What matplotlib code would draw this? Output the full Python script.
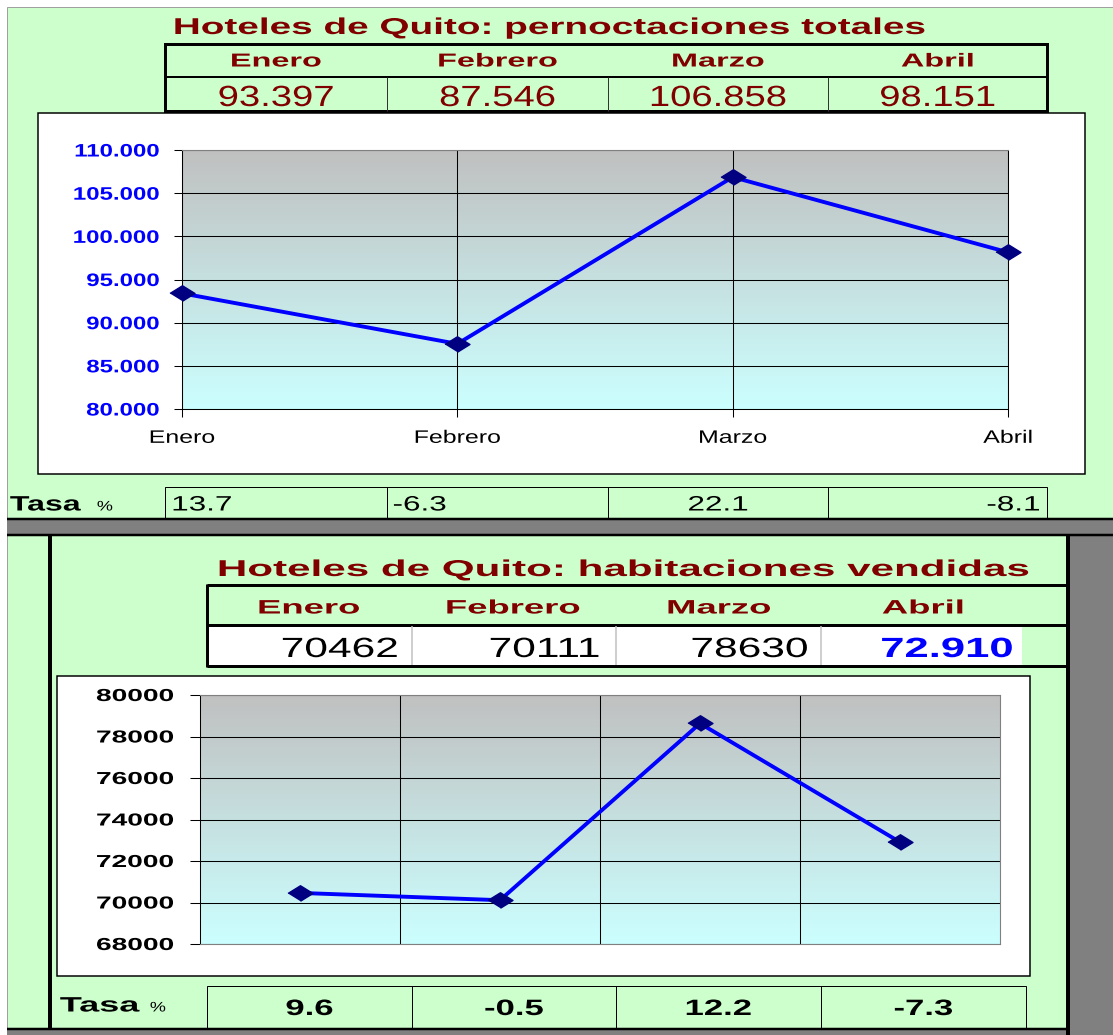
"""
Hoteles de Quito: pernoctaciones totales / habitaciones vendidas.
Spreadsheet-style panel with two small line charts, saved as out.png.
"""
import matplotlib
matplotlib.use("Agg")
import matplotlib.pyplot as plt
import matplotlib.patches as mpatches
from matplotlib.colors import LinearSegmentedColormap
from matplotlib.patheffects import AbstractPathEffect
from matplotlib.ticker import FuncFormatter
from matplotlib.transforms import Affine2D
import numpy as np


MONTHS = ["Enero", "Febrero", "Marzo", "Abril"]
PERNOCTACIONES = [93397, 87546, 106858, 98151]
TASA_PERNOCT = [13.7, -6.3, 22.1, -8.1]
HABITACIONES = [70462, 70111, 78630, 72910]
HABIT_LABELS = ["70462", "70111", "78630", "72.910"]
TASA_HABIT = [9.6, -0.5, 12.2, -7.3]
TITLE_TOP = "Hoteles de Quito: pernoctaciones totales"
TITLE_BOTTOM = "Hoteles de Quito: habitaciones vendidas"

W, H = 1113, 1035
PX = 0.72  # points per pixel at dpi 100
GREEN = "#ccffcc"
DARKRED = "#800000"
GRAY = "#808080"
FONT = "Liberation Sans"
DIAMOND = [(-1, 0), (0, 0.62), (1, 0), (0, -0.62)]


class Stretch(AbstractPathEffect):
    """Widen glyphs horizontally around the text anchor (source screenshot is stretched)."""

    def __init__(self, sx, ha="center"):
        super().__init__()
        self.sx = sx
        self.frac = {"left": 0.0, "center": 0.5, "right": 1.0}[ha]

    def draw_path(self, renderer, gc, tpath, affine, rgbFace=None):
        ext = tpath.get_extents(affine)
        x0 = ext.x0 + self.frac * ext.width
        tr = affine + Affine2D().translate(-x0, 0).scale(self.sx, 1).translate(x0, 0)
        renderer.draw_path(gc, tpath, tr, rgbFace)


fig = plt.figure(figsize=(W / 100, H / 100), dpi=100)
fig.patch.set_facecolor("white")
bg = fig.add_axes([0, 0, 1, 1])
bg.set_xlim(0, W)
bg.set_ylim(H, 0)
bg.axis("off")


def rect(x0, y0, x1, y1, fc="none", ec="none", lw=0):
    bg.add_patch(mpatches.Rectangle((x0, y0), x1 - x0, y1 - y0, facecolor=fc,
                                    edgecolor=ec, linewidth=lw * PX))


def line(xs, ys, lw=1, color="black"):
    bg.plot(xs, ys, color=color, lw=lw * PX, solid_capstyle="butt")


def label(x, y, s, size, sx, ha="center", weight="normal", color="black"):
    t = bg.text(x, y, s, fontsize=size, fontweight=weight, color=color, ha=ha,
                va="center_baseline", family=FONT)
    t.set_path_effects([Stretch(sx, ha)])
    return t


def px_axes(x0, y0, x1, y1):
    return fig.add_axes([x0 / W, 1 - y1 / H, (x1 - x0) / W, (y1 - y0) / H])


def gradient(ax, x0, x1, y0, y1):
    cmap = LinearSegmentedColormap.from_list("plotarea", ["#ccffff", "#c0c0c0"])
    grad = np.linspace(0, 1, 256)[:, None]
    ax.imshow(grad, extent=[x0, x1, y0, y1], aspect="auto", cmap=cmap,
              origin="lower", zorder=0, interpolation="bilinear")


def stretch_labels(labels, sx, ha):
    for t in labels:
        t.set_path_effects([Stretch(sx, ha)])


# ── page background ──────────────────────────────────────────────────────────
rect(7, 7, W, H, fc=GREEN, ec="#a0a0a0", lw=1)

# ── 1. Pernoctaciones totales ────────────────────────────────────────────────
top_cols = [165, 387, 608, 828, 1047]
label(549, 25, TITLE_TOP, 16.5, 1.69, weight="bold", color=DARKRED)
rect(165, 44, 1047, 111, ec="black", lw=3)
line([165, 1047], [77, 77], lw=2)
for xc in top_cols[1:-1]:
    line([xc, xc], [77, 111], lw=1, color="#333333")
for i, m in enumerate(MONTHS):
    xc = (top_cols[i] + top_cols[i + 1]) / 2
    label(xc, 60, m, 13.5, 1.73, weight="bold", color=DARKRED)
    label(xc, 95, f"{PERNOCTACIONES[i]:,}".replace(",", "."), 21, 1.31, color=DARKRED)

rect(38, 113, 1085, 474, fc="white", ec="black", lw=1.5)

ax1 = px_axes(182, 150, 1008, 409)
x = np.arange(len(MONTHS))
ax1.set_xlim(0, len(MONTHS) - 1)
ax1.set_ylim(80000, 110000)
gradient(ax1, 0, len(MONTHS) - 1, 80000, 110000)
ax1.set_yticks(np.arange(80000, 110001, 5000))
ax1.set_xticks(x, MONTHS)
ax1.yaxis.set_major_formatter(FuncFormatter(lambda v, _: f"{v:,.0f}".replace(",", ".")))
ax1.grid(True, color="black", lw=0.75)
ax1.plot(x, PERNOCTACIONES, color="#0000ff", lw=2.8, marker=DIAMOND, ms=18,
         mfc="#000080", mec="#000080", clip_on=False, zorder=5)
ax1.tick_params(axis="y", direction="out", length=6, width=0.75, pad=10,
                labelsize=13, labelcolor="#0000ff")
ax1.tick_params(axis="x", direction="out", length=6, width=0.75, pad=9,
                labelsize=13, labelcolor="black")
for t in ax1.get_yticklabels():
    t.set_fontweight("bold")
    t.set_family(FONT)
for t in ax1.get_xticklabels():
    t.set_family(FONT)
stretch_labels(ax1.get_yticklabels(), 1.33, "right")
stretch_labels(ax1.get_xticklabels(), 1.38, "center")
for side in ["left", "bottom", "right"]:
    ax1.spines[side].set_linewidth(0.75)
ax1.spines["top"].set_color(GRAY)

# tasa row
label(10, 503, "Tasa", 15, 1.54, ha="left", weight="bold")
label(97, 505, "%", 10, 1.3, ha="left")
rect(165, 487, 1047, 519, ec="black", lw=1)
for xc in top_cols[1:-1]:
    line([xc, xc], [487, 519], lw=1)
tasa_pos = [(172, "left"), (393, "left"), (718, "center"), (1040, "right")]
for (xp, ha), v in zip(tasa_pos, TASA_PERNOCT):
    label(xp, 503, f"{v:.1f}", 15, 1.51, ha=ha)

# separator bar
rect(7, 519, W, 535, fc=GRAY)
line([7, W], [519, 519], lw=2.5)
line([7, W], [535, 535], lw=2.5)

# ── 2. Habitaciones vendidas ─────────────────────────────────────────────────
line([50, 50], [535, 1029], lw=4)
rect(1068, 535, W, H, fc=GRAY)
line([1068, 1068], [535, H], lw=4)
rect(7, 1029, 1068, H, fc=GRAY)
line([7, 1068], [1029, 1029], lw=2.5)

bot_cols = [207, 412, 616, 821, 1026]
label(623, 567, TITLE_BOTTOM, 16.5, 1.84, weight="bold", color=DARKRED)
rect(208, 626, 1022, 665, fc="white")
for yc in [585, 625, 666]:
    line([207, 1068], [yc, yc], lw=3)
line([207, 207], [584, 667], lw=3)
for xc in bot_cols[1:-1]:
    line([xc, xc], [626, 665], lw=1.5, color="#c0c0c0")
head_x = [309, 513, 719, 923]
val_right = [398, 600, 808, 1013]
for i, m in enumerate(MONTHS):
    label(head_x[i], 607, m, 14, 1.875, weight="bold", color=DARKRED)
for i, s in enumerate(HABIT_LABELS):
    last = i == len(HABIT_LABELS) - 1
    label(val_right[i], 647, s, 20, 1.57 if last else 1.53, ha="right",
          weight="bold" if last else "normal", color="#0000ff" if last else "black")

rect(57, 676, 1030, 976, fc="white", ec="black", lw=1.5)

ax2 = px_axes(200, 695, 1000, 944)
ax2.set_xlim(-0.5, len(MONTHS) - 0.5)
ax2.set_ylim(68000, 80000)
gradient(ax2, -0.5, len(MONTHS) - 0.5, 68000, 80000)
ax2.set_yticks(np.arange(68000, 80001, 2000))
ax2.set_xticks(x[1:] - 0.5, [])
ax2.grid(True, color="black", lw=0.75)
ax2.plot(x, HABITACIONES, color="#0000ff", lw=2.8, marker=DIAMOND, ms=18,
         mfc="#000080", mec="#000080", clip_on=False, zorder=5)
ax2.tick_params(axis="y", direction="out", length=7, width=0.75, pad=12,
                labelsize=12.5, labelcolor="black")
ax2.tick_params(axis="x", length=0)
for t in ax2.get_yticklabels():
    t.set_fontweight("bold")
    t.set_family(FONT)
stretch_labels(ax2.get_yticklabels(), 1.62, "right")
ax2.spines["left"].set_linewidth(0.75)
for side in ["top", "right", "bottom"]:
    ax2.spines[side].set_color(GRAY)

# tasa row
label(60, 1004, "Tasa", 15, 1.73, ha="left", weight="bold")
label(150, 1006, "%", 10, 1.3, ha="left")
rect(207, 986, 1026, 1028, ec="black", lw=1)
for xc in bot_cols[1:-1]:
    line([xc, xc], [986, 1028], lw=1)
for i, v in enumerate(TASA_HABIT):
    xc = (bot_cols[i] + bot_cols[i + 1]) / 2
    label(xc, 1007, f"{v:.1f}", 16, 1.56, weight="bold")

fig.savefig("out.png", dpi=100)
